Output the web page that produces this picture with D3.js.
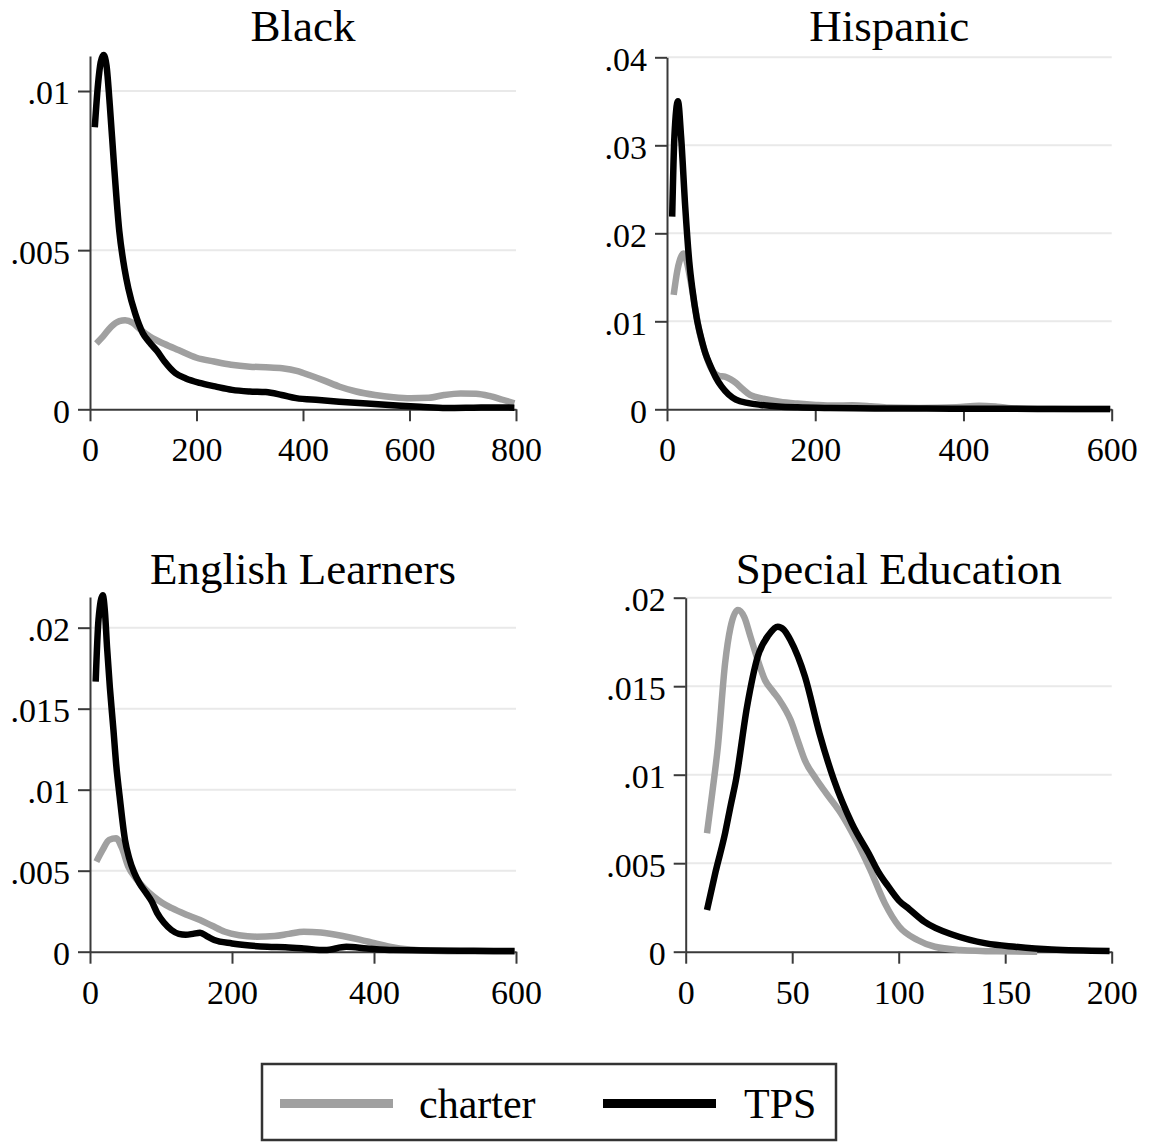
<!DOCTYPE html>
<html>
<head>
<meta charset="utf-8">
<script src="https://cdn.jsdelivr.net/npm/d3@7"></script>
<style>
  html, body { margin: 0; padding: 0; background: #fff; }
  svg { display: block; }
  text { font-family: "Liberation Serif", "Times New Roman", "DejaVu Serif", serif; fill: #000; }
</style>
</head>
<body>
<svg id="chart" width="1149" height="1142"></svg>
<script>
// ---------------- DATA ----------------
const titles = ["Black", "Hispanic", "English Learners", "Special Education"];
const seriesNames = ["charter", "TPS"];

const blackXTicks = [0, 200, 400, 600, 800];
const blackYTicks = [0, 0.005, 0.01];
const hispXTicks = [0, 200, 400, 600];
const hispYTicks = [0, 0.01, 0.02, 0.03, 0.04];
const elXTicks = [0, 200, 400, 600];
const elYTicks = [0, 0.005, 0.01, 0.015, 0.02];
const seXTicks = [0, 50, 100, 150, 200];
const seYTicks = [0, 0.005, 0.01, 0.015, 0.02];

const blackCharter = [[12,0.00207],[25,0.0023],[40,0.0026],[55,0.00277],[66,0.0028],[80,0.00272],[95,0.0025],[113,0.00228],[140,0.00205],[166,0.00186],[200,0.00162],[233,0.0015],[265,0.0014],[300,0.00134],[330,0.00132],[361,0.00129],[390,0.0012],[414,0.00106],[440,0.0009],[469,0.00071],[500,0.00056],[535,0.00045],[570,0.00038],[602,0.00035],[636,0.00036],[665,0.00045],[696,0.0005],[725,0.00049],[750,0.00042],[775,0.0003],[797,0.00019]];
const blackTPS = [[9,0.00886],[15,0.0102],[20,0.0109],[25.5,0.01113],[31,0.0108],[37,0.0096],[45,0.0077],[55,0.0056],[65,0.0044],[72,0.0038],[85,0.0030],[99,0.0024],[112,0.0021],[126,0.00183],[140,0.0015],[160,0.00114],[180,0.00097],[206,0.00083],[235,0.00072],[267,0.00061],[300,0.00056],[330,0.00054],[360,0.00045],[387,0.00035],[430,0.00029],[468,0.00024],[520,0.00018],[569,0.00013],[620,0.00008],[669,0.00004],[720,0.00005],[760,0.00006],[797,0.00005]];

const hispCharter = [[9,0.013],[14,0.0158],[20,0.0175],[22,0.0177],[26,0.017],[32,0.0145],[38,0.0115],[44,0.0087],[52,0.0063],[58,0.0049],[63,0.0042],[70,0.0038],[78,0.0037],[86,0.0034],[93,0.003],[102,0.0023],[112.6,0.0016],[130,0.0012],[152,0.00086],[176,0.00065],[201,0.0005],[225,0.00042],[250,0.00045],[275,0.00035],[299,0.0002],[340,0.00015],[390,0.00022],[421,0.0004],[445,0.0003],[470,0.0001],[520,0.00005],[598,0.00002]];
const hispTPS = [[7,0.0219],[10,0.031],[14.8,0.035],[19,0.031],[24.6,0.023],[30,0.0168],[34.4,0.01356],[40,0.0104],[46.7,0.0079],[52,0.0063],[58.8,0.0049],[66,0.0036],[73.5,0.0026],[83,0.0017],[93,0.0011],[110,0.0007],[127,0.0005],[150,0.00033],[176,0.00023],[220,0.00015],[280,0.0001],[350,0.00008],[420,0.00007],[500,0.00004],[598,0.00002]];

const elCharter = [[9,0.00556],[18,0.0063],[27,0.0069],[36.7,0.007],[45,0.0064],[54,0.00525],[65,0.0045],[77,0.0039],[89.6,0.0034],[102,0.003],[114.7,0.0027],[135,0.0023],[155,0.00196],[172,0.0016],[190,0.00123],[210,0.00102],[235,0.00093],[260,0.00097],[280,0.0011],[301,0.00123],[325,0.00118],[356,0.00097],[380,0.00075],[401,0.00052],[420,0.00032],[436,0.0002],[470,0.00008],[520,0.00003],[598,0.00001]];
const elTPS = [[8,0.01667],[12,0.0205],[18,0.022],[21,0.021],[24,0.0188],[28,0.0163],[33,0.0137],[37,0.0115],[41.7,0.0096],[49.3,0.0069],[55,0.0058],[62,0.0049],[70,0.0042],[79.5,0.0036],[87,0.0031],[94.5,0.0024],[104,0.0018],[114.7,0.00134],[125,0.0011],[134.8,0.00105],[145,0.0011],[155,0.00117],[165,0.00095],[175,0.00072],[200,0.00051],[225,0.00038],[250,0.0003],[275,0.00027],[301,0.0002],[331,0.0001],[361,0.0003],[390,0.0002],[427,0.0001],[480,0.00008],[540,0.00006],[598,0.00004]];

const seCharter = [[10,0.00669],[12.5,0.009],[15.1,0.01158],[18.5,0.0163],[21,0.0183],[24.5,0.0193],[27.5,0.0189],[30.4,0.0178],[33.5,0.0166],[37.2,0.01535],[41,0.0147],[44,0.01422],[49.2,0.0131],[53,0.0118],[56,0.0108],[61,0.0098],[66,0.00895],[73,0.0078],[80,0.0063],[86.7,0.00462],[93.5,0.00273],[100.3,0.00141],[108.8,0.00066],[117,0.00028],[129,0.0001],[146,0.00002],[165,0]];
const seTPS = [[10,0.00236],[14,0.0045],[18.5,0.0067],[21,0.0082],[23.6,0.0097],[28.8,0.01384],[33.8,0.01667],[39,0.0179],[43.2,0.01836],[46,0.0182],[49.2,0.0176],[56,0.01554],[62.8,0.01234],[69.6,0.0097],[78,0.00725],[86.7,0.00537],[90,0.0046],[95,0.0037],[100,0.0029],[105,0.0024],[112,0.0017],[125.8,0.00094],[141,0.00047],[154.6,0.00028],[171.8,0.00012],[199,0.00004]];

// domain maxima (axis extents)
const xMax = [800, 600, 600, 200];
const yMax = [0.0111, 0.04, 0.0219, 0.02];

// ---------------- LAYOUT ----------------
const layout = [
  { x0: 90,    x1: 516,    y0: 409.3, y1: 56.0 },
  { x0: 667,   x1: 1111.7, y0: 409.3, y1: 57.3 },
  { x0: 90,    x1: 516,    y0: 951.7, y1: 596.9 },
  { x0: 685.7, x1: 1111.7, y0: 951.7, y1: 597.7 }
];
const titleBaseline = [41, 41, 583.5, 583.5];
const xTicksAll = [blackXTicks, hispXTicks, elXTicks, seXTicks];
const yTicksAll = [blackYTicks, hispYTicks, elYTicks, seYTicks];
const charterAll = [blackCharter, hispCharter, elCharter, seCharter];
const tpsAll = [blackTPS, hispTPS, elTPS, seTPS];

const colors = { charter: "#a0a0a0", TPS: "#000000" };
const axisColor = "#3a3a3a";
const gridColor = "#e9e9e9";
const tickFont = 34;

const fmtY = v => v === 0 ? "0" : String(+v.toFixed(4)).replace(/^0\./, ".");

const svg = d3.select("#chart");

titles.forEach((title, i) => {
  const L = layout[i];
  const x = d3.scaleLinear().domain([0, xMax[i]]).range([L.x0, L.x1]);
  const y = d3.scaleLinear().domain([0, yMax[i]]).range([L.y0, L.y1]);
  const g = svg.append("g");

  // gridlines
  g.selectAll("line.grid")
    .data(yTicksAll[i].filter(v => v !== 0))
    .join("line")
    .attr("x1", L.x0).attr("x2", L.x1)
    .attr("y1", d => y(d)).attr("y2", d => y(d))
    .attr("stroke", gridColor).attr("stroke-width", 2);

  // axes
  const ya = d3.axisLeft(y).tickValues(yTicksAll[i]).tickFormat(fmtY)
    .tickSize(12).tickSizeOuter(0).tickPadding(8);
  const yg = g.append("g").attr("transform", `translate(${L.x0},0)`).call(ya);
  const xa = d3.axisBottom(x).tickValues(xTicksAll[i]).tickFormat(d3.format("d"))
    .tickSize(12).tickSizeOuter(0).tickPadding(16);
  const xg = g.append("g").attr("transform", `translate(0,${L.y0})`).call(xa);

  [yg, xg].forEach(a => {
    a.select(".domain").attr("stroke", axisColor).attr("stroke-width", 2);
    a.selectAll(".tick line").attr("stroke", axisColor).attr("stroke-width", 2);
    a.selectAll(".tick text").attr("fill", "#000")
      .style("font-family", '"Liberation Serif", "Times New Roman", serif')
      .style("font-size", tickFont + "px");
  });
  yg.selectAll(".tick text").attr("dy", "0.38em");

  // curves
  const line = d3.line().x(d => x(d[0])).y(d => y(d[1])).curve(d3.curveMonotoneX);
  g.append("path").datum(charterAll[i]).attr("d", line)
    .attr("fill", "none").attr("stroke", colors.charter).attr("stroke-width", 6.5)
    .attr("stroke-linejoin", "round");
  g.append("path").datum(tpsAll[i]).attr("d", line)
    .attr("fill", "none").attr("stroke", colors.TPS).attr("stroke-width", 6.5)
    .attr("stroke-linejoin", "round");

  // title
  g.append("text")
    .attr("x", (L.x0 + L.x1) / 2).attr("y", titleBaseline[i])
    .attr("text-anchor", "middle")
    .style("font-size", "45px")
    .text(title);
});

// legend
const lg = svg.append("g");
lg.append("rect").attr("x", 262).attr("y", 1064).attr("width", 574).attr("height", 76)
  .attr("fill", "#fff").attr("stroke", "#333").attr("stroke-width", 2.5);
const legendItems = [
  { name: seriesNames[0], lx: 280, tx: 419 },
  { name: seriesNames[1], lx: 603, tx: 744 }
];
legendItems.forEach(it => {
  lg.append("line").attr("x1", it.lx).attr("x2", it.lx + 113)
    .attr("y1", 1103.5).attr("y2", 1103.5)
    .attr("stroke", colors[it.name]).attr("stroke-width", 9);
  lg.append("text").attr("x", it.tx).attr("y", 1118)
    .style("font-size", "42px").text(it.name);
});
</script>
</body>
</html>
